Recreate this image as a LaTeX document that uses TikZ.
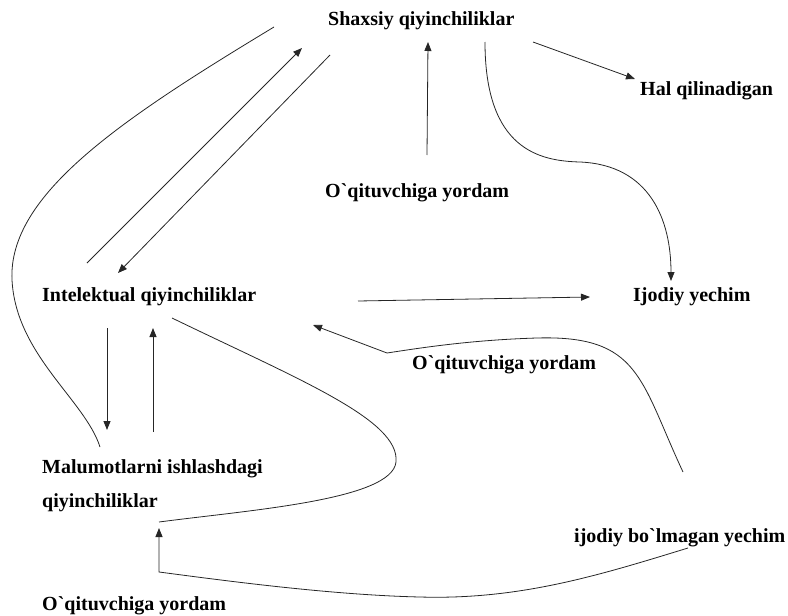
\documentclass[tikz,border=0pt]{standalone}
\usepackage{fontspec}
\newfontfamily\uzfont{Liberation Serif}
\usetikzlibrary{arrows.meta}
\begin{document}
\begin{tikzpicture}[x=1pt,y=-1pt,
  lbl/.style={anchor=base west,inner sep=0pt,font=\uzfont\bfseries\fontsize{20}{24}\selectfont},
  con/.style={line width=0.8pt,draw=black!85},
  arr/.style={con,-{Triangle[length=9pt,width=7pt]}}]
\useasboundingbox (0,0) rectangle (788,616);
% labels
\node[lbl] (shax) at (328,25) {Shaxsiy qiyinchiliklar};
\node[lbl] (hal) at (640,95) {Hal qilinadigan};
\node[lbl] (oq1) at (325,197) {O`qituvchiga yordam};
\node[lbl] (int) at (42,301) {Intelektual qiyinchiliklar};
\node[lbl] (ijod) at (633,301) {Ijodiy yechim};
\node[lbl] (oq2) at (412,369) {O`qituvchiga yordam};
\node[lbl] (mal) at (42,473) {Malumotlarni ishlashdagi};
\node[lbl] (mal2) at (42,507) {qiyinchiliklar};
\node[lbl] (ijb) at (574,542) {ijodiy bo`lmagan yechim};
\node[lbl] (oq3) at (42,610) {O`qituvchiga yordam};
% connector end points
\coordinate (a1) at (274,27);  \coordinate (a2) at (100,447);
\coordinate (b1) at (87,263);  \coordinate (b2) at (302,48);
\coordinate (c1) at (330,55);  \coordinate (c2) at (118,273);
\coordinate (d1) at (427,155); \coordinate (d2) at (428,42);
\coordinate (e1) at (533,42);  \coordinate (e2) at (635,79);
\coordinate (f1) at (485,42);  \coordinate (f2) at (671,281);
\coordinate (g1) at (358,301); \coordinate (g2) at (590,297);
\coordinate (h1) at (683,472); \coordinate (h2) at (387,353); \coordinate (h3) at (313,325);
\coordinate (i1) at (107,328); \coordinate (i2) at (107,430);
\coordinate (j1) at (153,432); \coordinate (j2) at (153,328);
\coordinate (k1) at (172,318); \coordinate (k2) at (159,522);
\coordinate (l1) at (688,548); \coordinate (l2) at (159,572); \coordinate (l3) at (159,528);
% connectors
\draw[con] (a1) .. controls (120,120) and (8,195) .. (12,280) .. controls (16,355) and (85,400) .. (a2);
\draw[arr] (b1) -- (b2);
\draw[arr] (c1) -- (c2);
\draw[arr] (d1) -- (d2);
\draw[arr] (e1) -- (e2);
\draw[arr] (f1) .. controls (485,150) and (540,161) .. (580,162) .. controls (650,165) and (671,220) .. (f2);
\draw[arr] (g1) -- (g2);
\draw[arr] (h1) .. controls (640,380) and (640,335) .. (537,338) .. controls (470,340) and (420,348) .. (h2) -- (h3);
\draw[arr] (i1) -- (i2);
\draw[arr] (j1) -- (j2);
\draw[con] (k1) .. controls (300,380) and (400,420) .. (396,462) .. controls (392,500) and (250,510) .. (k2);
\draw[arr] (l1) .. controls (600,575) and (520,600) .. (420,597) .. controls (330,595) and (220,580) .. (l2) -- (l3);
\end{tikzpicture}
\end{document}
